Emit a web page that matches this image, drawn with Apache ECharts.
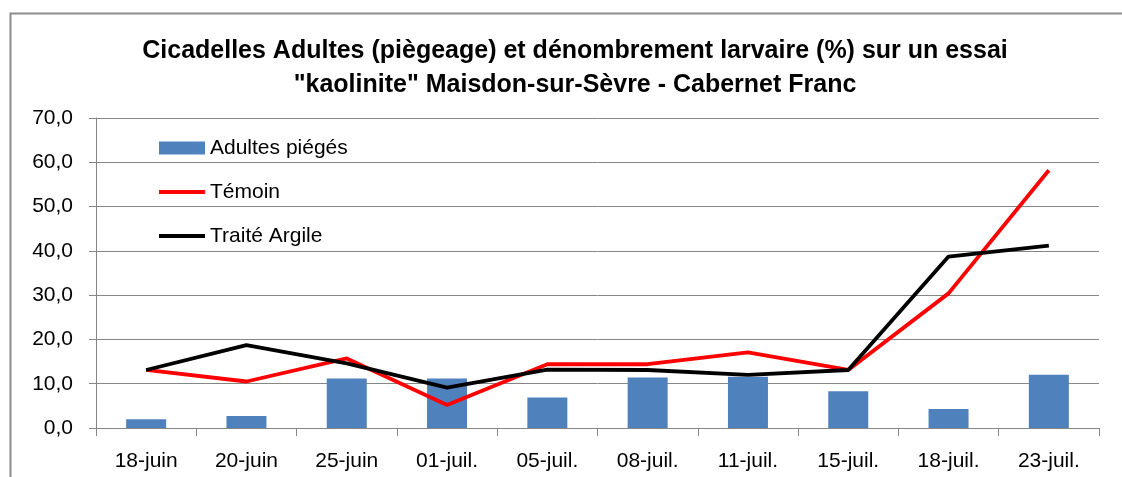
<!DOCTYPE html>
<html>
<head>
<meta charset="utf-8">
<script src="https://cdn.jsdelivr.net/npm/echarts@6/dist/echarts.min.js"></script>
<style>
html,body{margin:0;padding:0;background:#fff;}
#chart{width:1122px;height:477px;}
</style>
</head>
<body>
<div id="chart"></div>
<script>
const categories = ['18-juin','20-juin','25-juin','01-juil.','05-juil.','08-juil.','11-juil.','15-juil.','18-juil.','23-juil.'];
const adultesPieges = [2.0, 2.7, 11.2, 11.2, 6.9, 11.4, 11.6, 8.3, 4.3, 12.0];
const temoin = [13.1, 10.5, 15.7, 5.2, 14.4, 14.4, 17.1, 13.1, 30.4, 58.2];
const traiteArgile = [13.1, 18.7, 14.6, 9.1, 13.2, 13.1, 12.0, 13.1, 38.7, 41.2];
const titleText = 'Cicadelles Adultes (pi\u00e8geage) et d\u00e9nombrement larvaire (%) sur un essai\n"kaolinite" Maisdon-sur-S\u00e8vre - Cabernet Franc';

const chart = echarts.init(document.getElementById('chart'), null, {renderer:'canvas'});
const font = 'Liberation Sans';
const noSym = {color:'rgba(0,0,0,0)', borderWidth:0, borderColor:'rgba(0,0,0,0)'};
chart.setOption({
  animation:false,
  backgroundColor:'#ffffff',
  graphic:[{
    type:'rect', left:8, top:11, shape:{width:1124, height:480},
    style:{fill:'none', stroke:'#8c8c8c', lineWidth:2}, silent:true
  }],
  title:{
    text:titleText, left:570, top:29, textAlign:'center',
    textStyle:{fontFamily:font, fontWeight:'bold', fontSize:25, color:'#000', lineHeight:34}
  },
  legend:{
    orient:'vertical', left:152, top:131, itemGap:20,
    itemWidth:46, itemHeight:13,
    textStyle:{fontFamily:font, fontSize:21, color:'#000', lineHeight:24},
    data:[
      {name:'Adultes pi\u00e9g\u00e9s', icon:'rect'},
      {name:'T\u00e9moin', itemStyle:noSym, lineStyle:{width:4, color:'#ff0000'}},
      {name:'Trait\u00e9 Argile', itemStyle:noSym, lineStyle:{width:4, color:'#000000'}}
    ]
  },
  grid:{left:96, right:23, top:118, bottom:49, containLabel:false},
  xAxis:{
    type:'category', data:categories, boundaryGap:true,
    axisLine:{lineStyle:{color:'#868686', width:1}},
    axisTick:{show:true, length:8, lineStyle:{color:'#868686'}},
    axisLabel:{fontFamily:font, fontSize:21, color:'#000', margin:23, interval:0}
  },
  yAxis:{
    type:'value', min:0, max:70, interval:10,
    axisLine:{show:true, lineStyle:{color:'#868686', width:1}},
    axisTick:{show:true, length:7, lineStyle:{color:'#868686'}},
    splitLine:{lineStyle:{color:'#868686', width:1}},
    axisLabel:{fontFamily:font, fontSize:21, color:'#000', margin:23,
      formatter:v=>v.toFixed(1).replace('.', ',')}
  },
  series:[
    {name:'Adultes pi\u00e9g\u00e9s', type:'bar', data:adultesPieges, barWidth:40,
      itemStyle:{color:'#4f81bd'}},
    {name:'T\u00e9moin', type:'line', data:temoin, symbol:'none', showSymbol:false,
      lineStyle:{color:'#ff0000', width:3.8}, itemStyle:{color:'#ff0000'}},
    {name:'Trait\u00e9 Argile', type:'line', data:traiteArgile, symbol:'none', showSymbol:false,
      lineStyle:{color:'#000000', width:3.8}, itemStyle:{color:'#000000'}}
  ]
});
</script>
</body>
</html>
